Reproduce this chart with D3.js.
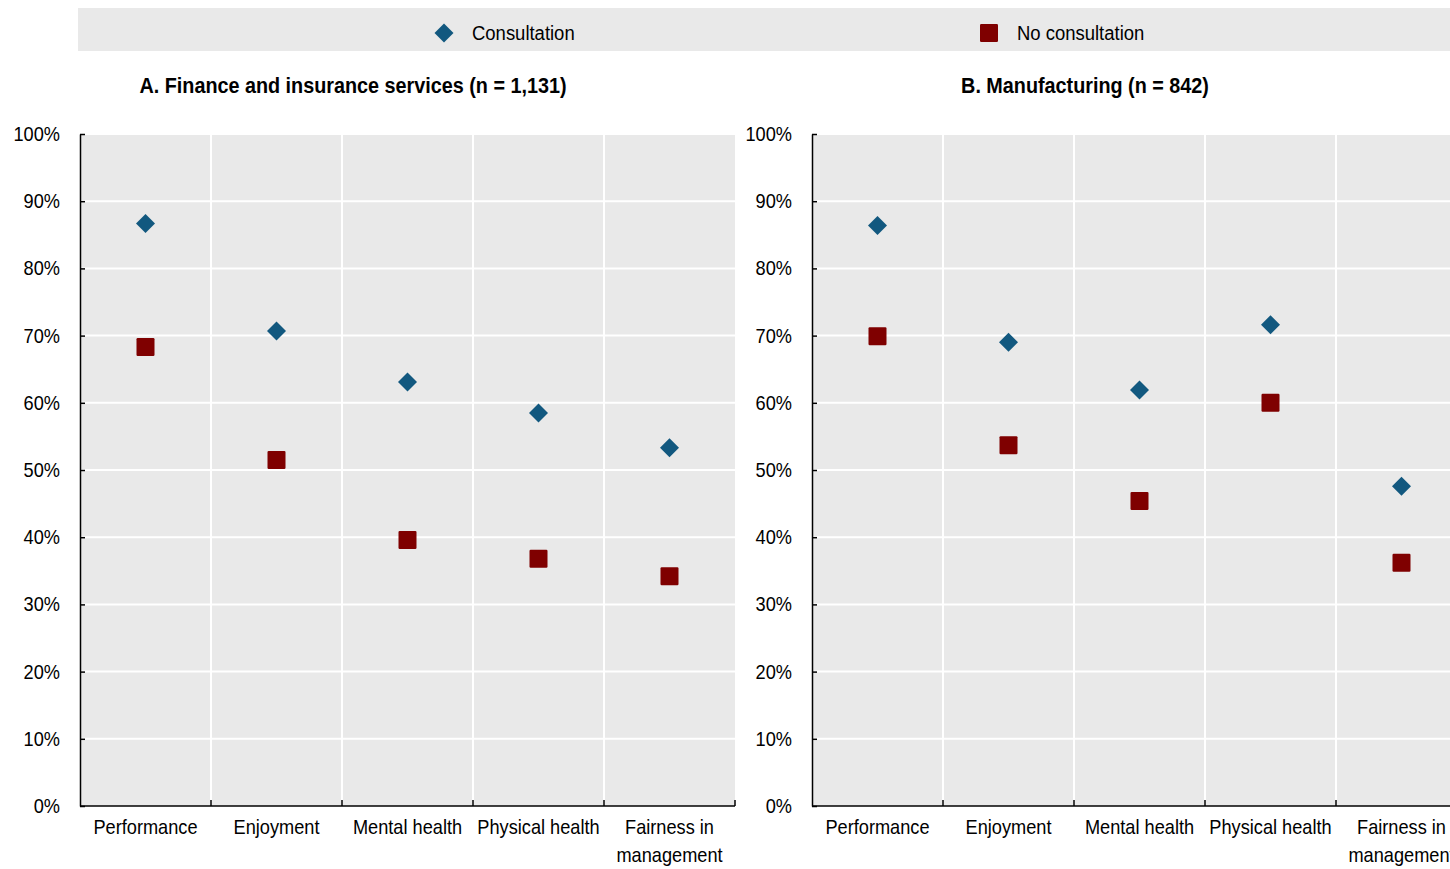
<!DOCTYPE html>
<html>
<head>
<meta charset="utf-8">
<script src="https://cdn.jsdelivr.net/npm/d3@7"></script>
<style>
  body { margin: 0; background: #fff; }
  svg { display: block; font-family: "Liberation Sans Narrow", "Arial Narrow", "Liberation Sans", Arial, sans-serif; }
</style>
</head>
<body>
<script>
var categories = ['Performance', 'Enjoyment', 'Mental health', 'Physical health', 'Fairness in management'];
var seriesNames = ['Consultation', 'No consultation'];
var consultationA = [86.7, 70.7, 63.1, 58.5, 53.3];
var noConsultationA = [68.3, 51.5, 39.6, 36.8, 34.2];
var consultationB = [86.4, 69.0, 61.9, 71.6, 47.6];
var noConsultationB = [69.9, 53.7, 45.4, 60.0, 36.2];
var yTicks = [0, 10, 20, 30, 40, 50, 60, 70, 80, 90, 100];
var panelTitles = ['A. Finance and insurance services (n = 1,131)', 'B. Manufacturing (n = 842)'];

var colors = ['#12587f', '#7f0000'];
var width = 1450, height = 869;
var squeeze = 0.91; // fake a narrow face, no Arial Narrow installed

var svg = d3.select('body').append('svg')
    .attr('width', width)
    .attr('height', height);

function narrowText(parent, x, y, size, sx) {
    return parent.append('text')
        .attr('transform', 'translate(' + x + ',' + y + ') scale(' + (sx || squeeze) + ',1)')
        .attr('font-size', size)
        .attr('fill', '#000');
}

// legend band
svg.append('rect')
    .attr('x', 78).attr('y', 8)
    .attr('width', width - 78).attr('height', 43)
    .attr('fill', '#e9e9e9');

var legendX = [444, 989];
seriesNames.forEach(function(name, i) {
    var g = svg.append('g').attr('transform', 'translate(' + legendX[i] + ',33)');
    drawMarker(g, i, 0, 0);
    narrowText(g, 28, 0, 21, 0.88)
        .attr('dy', '0.35em')
        .text(name);
});

var y = d3.scaleLinear().domain([0, 100]).range([806, 134]);

var panels = [
    { left: 80, title: panelTitles[0], series: [consultationA, noConsultationA] },
    { left: 812, title: panelTitles[1], series: [consultationB, noConsultationB] }
];

panels.forEach(drawPanel);

function drawMarker(g, i, cx, cy) {
    if (i === 0) {
        var s = 9.5;
        g.append('path')
            .attr('d', 'M' + cx + ',' + (cy - s) + 'L' + (cx + s) + ',' + cy + 'L' + cx + ',' + (cy + s) + 'L' + (cx - s) + ',' + cy + 'Z')
            .attr('fill', colors[0]);
    } else {
        var h = 9;
        g.append('rect')
            .attr('x', cx - h).attr('y', cy - h)
            .attr('width', 2 * h).attr('height', 2 * h)
            .attr('rx', 1.2)
            .attr('fill', colors[1]);
    }
}

function drawPanel(p) {
    var x = d3.scaleBand().domain(categories).range([p.left, p.left + 655]);
    var g = svg.append('g');

    g.append('rect')
        .attr('x', p.left).attr('y', y(100))
        .attr('width', 655).attr('height', y(0) - y(100))
        .attr('fill', '#e9e9e9');

    // horizontal grid
    g.selectAll('.hgrid')
        .data(yTicks.filter(function(d) { return d > 0; }))
        .enter().append('line')
        .attr('x1', p.left).attr('x2', p.left + 655)
        .attr('y1', function(d) { return y(d); })
        .attr('y2', function(d) { return y(d); })
        .attr('stroke', '#fff').attr('stroke-width', 2);

    // vertical grid at band edges
    var edges = categories.slice(1).map(function(c) { return x(c); });
    g.selectAll('.vgrid')
        .data(edges)
        .enter().append('line')
        .attr('x1', function(d) { return d; }).attr('x2', function(d) { return d; })
        .attr('y1', y(100)).attr('y2', y(0))
        .attr('stroke', '#fff').attr('stroke-width', 2);

    // y axis
    var yAxis = d3.axisLeft(y).tickValues(yTicks)
        .tickFormat(function(d) { return d + '%'; })
        .tickSizeInner(-5).tickSizeOuter(0);
    var ya = g.append('g')
        .attr('transform', 'translate(' + p.left + ',0)')
        .call(yAxis);
    ya.select('.domain').attr('stroke', '#000').attr('stroke-width', 1.5);
    ya.selectAll('.tick line').attr('stroke', '#000').attr('stroke-width', 1.5);
    ya.selectAll('.tick text')
        .attr('x', 0)
        .attr('transform', 'translate(-20,0) scale(' + squeeze + ',1)')
        .attr('font-size', 20)
        .attr('fill', '#000')
        .attr('font-family', null);
    ya.attr('font-family', null);

    // x axis baseline and boundary ticks
    g.append('line')
        .attr('x1', p.left).attr('x2', p.left + 655)
        .attr('y1', y(0)).attr('y2', y(0))
        .attr('stroke', '#000').attr('stroke-width', 1.5);
    g.selectAll('.xtick')
        .data(edges.concat([p.left + 655]))
        .enter().append('line')
        .attr('x1', function(d) { return d; }).attr('x2', function(d) { return d; })
        .attr('y1', y(0)).attr('y2', y(0) - 6)
        .attr('stroke', '#000').attr('stroke-width', 1.5);

    // category labels
    categories.forEach(function(c) {
        var t = narrowText(g, x(c) + x.bandwidth() / 2, 834, 20)
            .attr('text-anchor', 'middle');
        var lines = c === 'Fairness in management' ? ['Fairness in', 'management'] : [c];
        lines.forEach(function(l, i) {
            t.append('tspan')
                .attr('x', 0)
                .attr('dy', i === 0 ? 0 : 28)
                .text(l);
        });
    });

    // title
    narrowText(g, p.left + 273, 93, 22, 0.9)
        .attr('text-anchor', 'middle')
        .attr('font-weight', 'bold')
        .text(p.title);

    // markers: no consultation first, consultation on top
    [1, 0].forEach(function(si) {
        p.series[si].forEach(function(v, ci) {
            drawMarker(g, si, x(categories[ci]) + x.bandwidth() / 2, y(v));
        });
    });
}
</script>
</body>
</html>
